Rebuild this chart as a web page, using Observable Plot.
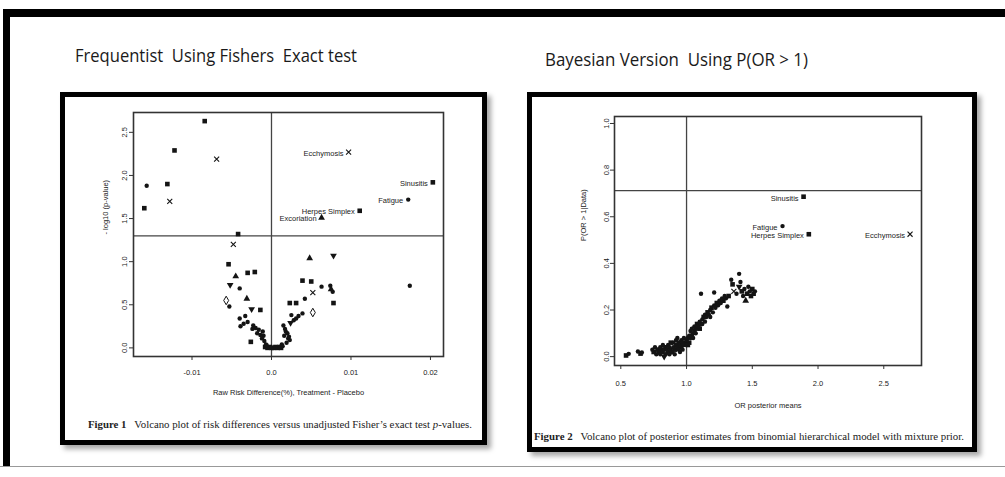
<!DOCTYPE html>
<html>
<head>
<meta charset="utf-8">
<script src="https://cdn.jsdelivr.net/npm/d3@7"></script>
<script src="https://cdn.jsdelivr.net/npm/@observablehq/plot@0.6"></script>
<style>
  html, body { margin: 0; padding: 0; background: #fff; }
  #page { position: relative; width: 1005px; height: 477px; overflow: hidden; background: #fff; }
  .abs { position: absolute; }
  .title { font-family: "Liberation Sans Narrow", "Open Sans", sans-serif; font-size: 18px; color: #1a1a1a; white-space: pre; transform-origin: 0 50%; line-height: 1; }
  .box { box-sizing: border-box; border: 5px solid #000; box-shadow: 4px 4px 5px rgba(0,0,0,0.35); background: #fff; }
  .caption { font-family: "Liberation Serif", "DejaVu Serif", serif; font-size: 10px; color: #222; white-space: pre; transform-origin: 0 50%; line-height: 1; }
  .plot { position: absolute; }
</style>
</head>
<body>
<div id="page">
  <div class="abs" style="left:3px; top:9px; width:1002px; height:8px; background:#000;"></div>
  <div class="abs" style="left:3px; top:9px; width:7px; height:458px; background:#000;"></div>
  <div class="abs" style="left:0px; top:466px; width:1005px; height:1px; background:#999;"></div>

  <div id="t1" class="abs title" style="left:75px; top:46px;">Frequentist  Using Fishers  Exact test</div>
  <div id="t2" class="abs title" style="left:545px; top:50px;">Bayesian Version  Using P(OR &gt; 1)</div>

  <div class="abs box" style="left:60px; top:92px; width:427px; height:353px;"></div>
  <div class="abs box" style="left:527px; top:92px; width:450px; height:360px;"></div>

  <div id="plot1" class="plot" style="left:65px; top:97px;"></div>
  <div id="plot2" class="plot" style="left:532px; top:97px;"></div>

  <div id="c1" class="abs caption" style="left:88px; top:420px;"><b>Figure 1</b>   Volcano plot of risk differences versus unadjusted Fisher’s exact test <i>p</i>-values.</div>
  <div id="c2" class="abs caption" style="left:534px; top:432px;"><b>Figure 2</b>   Volcano plot of posterior estimates from binomial hierarchical model with mixture prior.</div>
</div>
<script>
// ---------------- Left chart (Frequentist) data ----------------
const leftX = [-0.0084,-0.0122,-0.0069,-0.0157,-0.0131,-0.0128,-0.0160,-0.0042,-0.0048,-0.0054,
  -0.0045,-0.0030,-0.0021,-0.0052,-0.0040,-0.0031,-0.0057,-0.0053,-0.0025,-0.0014,
  -0.0040,-0.0033,-0.0035,-0.0030,-0.0039,-0.0023,-0.0020,-0.0024,-0.0016,-0.0011,
  -0.0014,-0.0010,-0.0026,-0.0009,-0.0007,-0.0012,-0.0018,-0.0008,-0.0005,-0.0002,
  0.0000,0.0003,0.0005,0.0008,0.0010,0.0012,0.0014,-0.0006,0.0048,0.0078,
  0.0039,0.0050,0.0063,0.0074,0.0075,0.0052,0.0077,0.0174,0.0042,0.0023,
  0.0031,0.0078,0.0052,0.0039,0.0025,0.0034,0.0028,0.0031,0.0015,0.0017,
  0.0018,0.0020,0.0021,0.0019,0.0023,0.0016,0.0022,0.0024,0.0013];
const leftY = [2.63,2.29,2.19,1.88,1.90,1.70,1.62,1.32,1.20,0.97,
  0.83,0.87,0.88,0.73,0.69,0.57,0.55,0.48,0.45,0.44,
  0.34,0.37,0.28,0.30,0.25,0.26,0.23,0.22,0.21,0.19,
  0.15,0.14,0.07,0.08,0.04,0.11,0.17,0.01,0.00,0.01,
  0.00,0.00,0.01,0.00,0.01,0.00,0.02,0.03,1.04,1.07,
  0.78,0.77,0.71,0.72,0.68,0.64,0.65,0.72,0.57,0.52,
  0.52,0.52,0.41,0.40,0.38,0.37,0.32,0.34,0.26,0.22,
  0.19,0.17,0.11,0.06,0.09,0.14,0.13,0.29,0.04];
const leftShape = ["sq","sq","x","ci","sq","x","sq","sq","x","sq",
  "tu","sq","sq","td","ci","tu","di","ci","td","sq",
  "ci","ci","ci","ci","ci","ci","ci","ci","ci","ci",
  "ci","ci","sq","ci","ci","ci","ci","sq","sq","sq",
  "sq","sq","sq","sq","sq","sq","ci","ci","tu","td",
  "sq","sq","ci","ci","tu","x","ci","ci","ci","sq",
  "sq","sq","di","ci","ci","ci","ci","ci","ci","ci",
  "ci","ci","ci","ci","ci","ci","ci","td","ci"];
const leftLabelNames = ["Ecchymosis","Sinusitis","Fatigue","Herpes Simplex","Excoriation"];
const leftLabelX = [0.0097, 0.0203, 0.0172, 0.0111, 0.0063];
const leftLabelY = [2.27, 1.92, 1.72, 1.59, 1.51];
const leftLabelShape = ["x","sq","ci","sq","tu"];
const leftThresholdY = 1.30;
const leftThresholdX = 0;
const leftXTicks = [-0.01, 0, 0.01, 0.02];
const leftXTickLabels = ["-0.01", "0.0", "0.01", "0.02"];
const leftYTicks = [0, 0.5, 1, 1.5, 2, 2.5];
const leftYTickLabels = ["0.0", "0.5", "1.0", "1.5", "2.0", "2.5"];
const leftXTitle = "Raw Risk Difference(%), Treatment - Placebo";
const leftYTitle = "- log10 (p-value)";

// ---------------- Right chart (Bayesian) data ----------------
const rightX = [0.54,0.56,0.63,0.65,0.66,0.74,0.75,0.76,0.77,0.78,
  0.79,0.80,0.80,0.81,0.82,0.82,0.83,0.83,0.84,0.84,
  0.85,0.86,0.86,0.87,0.87,0.88,0.88,0.89,0.90,0.90,
  0.91,0.92,0.92,0.93,0.94,0.94,0.95,0.96,0.96,0.97,
  0.98,0.98,0.99,1.00,1.00,1.01,1.02,1.02,1.03,1.03,
  1.04,1.04,1.05,1.05,1.06,1.06,1.07,1.07,1.08,1.08,
  1.09,1.10,1.10,1.11,1.12,1.12,1.13,1.14,1.14,1.15,
  1.16,1.17,1.18,1.18,1.19,1.20,1.21,1.22,1.23,1.24,
  1.25,1.26,1.27,1.28,1.11,1.21,1.34,1.35,1.40,1.31,
  1.32,1.30,1.29,1.40,1.42,1.43,1.44,1.45,1.46,1.47,
  1.48,1.49,1.50,1.51,1.52,1.41,1.38,1.36,0.95,0.91,
  0.97,1.01,0.93];
const rightY = [0.005,0.012,0.022,0.013,0.018,0.03,0.02,0.04,0.01,0.03,
  0.02,0.04,0.01,0.03,0.05,0.02,0.03,0.00,0.04,0.01,
  0.03,0.05,0.02,0.04,0.01,0.03,0.06,0.02,0.04,0.06,
  0.03,0.05,0.07,0.04,0.06,0.03,0.05,0.07,0.04,0.06,
  0.05,0.08,0.06,0.07,0.05,0.08,0.06,0.09,0.08,0.11,
  0.09,0.12,0.10,0.08,0.11,0.13,0.12,0.10,0.14,0.12,
  0.13,0.15,0.12,0.14,0.16,0.14,0.17,0.15,0.18,0.17,
  0.19,0.18,0.20,0.17,0.21,0.19,0.22,0.21,0.23,0.22,
  0.24,0.23,0.25,0.24,0.27,0.275,0.33,0.31,0.355,0.215,
  0.26,0.25,0.26,0.30,0.28,0.26,0.29,0.24,0.27,0.30,
  0.28,0.26,0.29,0.27,0.28,0.32,0.27,0.28,0.02,0.01,
  0.03,0.05,0.08];
const rightShape = ["sq","ci","ci","sq","ci","ci","sq","ci","ci","sq",
  "ci","ci","ci","sq","ci","ci","ci","td","sq","ci",
  "ci","ci","sq","ci","ci","ci","sq","ci","ci","ci",
  "sq","ci","ci","ci","sq","ci","ci","ci","sq","ci",
  "ci","ci","sq","ci","ci","ci","sq","ci","ci","ci",
  "sq","ci","ci","ci","sq","ci","ci","ci","sq","ci",
  "ci","ci","sq","ci","ci","ci","sq","ci","ci","ci",
  "sq","ci","ci","ci","sq","ci","ci","ci","sq","ci",
  "ci","ci","ci","sq","ci","ci","ci","sq","ci","ci",
  "sq","ci","ci","td","sq","ci","ci","tu","sq","ci",
  "ci","sq","sq","sq","ci","ci","ci","x","ci","ci",
  "ci","sq","ci"];
const rightLabelNames = ["Sinusitis","Fatigue","Herpes Simplex","Ecchymosis"];
const rightLabelX = [1.89, 1.73, 1.93, 2.70];
const rightLabelY = [0.686, 0.56, 0.525, 0.525];
const rightLabelShape = ["sq","ci","sq","x"];
const rightThresholdY = 0.712;
const rightThresholdX = 1.0;
const rightXTicks = [0.5, 1, 1.5, 2, 2.5];
const rightXTickLabels = ["0.5", "1.0", "1.5", "2.0", "2.5"];
const rightYTicks = [0, 0.2, 0.4, 0.6, 0.8, 1.0];
const rightYTickLabels = ["0.0", "0.2", "0.4", "0.6", "0.8", "1.0"];
const rightXTitle = "OR posterior means";
const rightYTitle = "P(OR > 1|Data)";

// ---------------- helpers ----------------
const INK = "#141414";
function rows(xs, ys, ss) { return xs.map((x, i) => ({x, y: ys[i], s: ss[i]})); }
function dotMarks(data) {
  const by = k => data.filter(d => d.s === k);
  return [
    Plot.dot(by("sq"), {x: "x", y: "y", symbol: "square", r: 2.6, fill: INK, stroke: "none"}),
    Plot.dot(by("ci"), {x: "x", y: "y", symbol: "circle", r: 2.2, fill: INK, stroke: "none"}),
    Plot.dot(by("tu"), {x: "x", y: "y", symbol: "triangle", r: 2.5, fill: INK, stroke: "none"}),
    Plot.dot(by("td"), {x: "x", y: "y", symbol: "triangle", r: 2.5, fill: INK, stroke: "none", rotate: 180}),
    Plot.dot(by("x"), {x: "x", y: "y", symbol: "times", r: 2.4, stroke: INK, strokeWidth: 1.1, fill: "none"}),
    Plot.dot(by("di"), {x: "x", y: "y", symbol: "diamond", r: 2.6, stroke: INK, strokeWidth: 1, fill: "none"})
  ];
}
function fmt(ticks, labels) { return d => labels[ticks.findIndex(t => Math.abs(t - d) < 1e-9)]; }
const plotStyle = {fontFamily: "'Liberation Sans', Arial, sans-serif", fontSize: "7.5px", color: "#222", background: "transparent", overflow: "visible"};

// ---------------- Left plot ----------------
const leftData = rows(leftX, leftY, leftShape);
const leftLabels = leftLabelNames.map((n, i) => ({name: n, x: leftLabelX[i], y: leftLabelY[i], s: leftLabelShape[i]}));
const p1 = Plot.plot({
  width: 416, height: 305,
  marginLeft: 68, marginRight: 38, marginTop: 15, marginBottom: 46,
  x: {domain: [-0.01736, 0.02164]},
  y: {domain: [-0.10, 2.73]},
  style: plotStyle,
  marks: [
    Plot.ruleY([leftThresholdY], {stroke: "#444", strokeWidth: 1.3}),
    Plot.ruleX([leftThresholdX], {stroke: "#444", strokeWidth: 1.3}),
    Plot.frame({stroke: "#333", strokeWidth: 1.6}),
    Plot.axisX({ticks: leftXTicks, tickFormat: fmt(leftXTicks, leftXTickLabels), tickSize: 4, tickPadding: 9, label: null, stroke: "#333"}),
    Plot.axisY({ticks: leftYTicks, tickFormat: fmt(leftYTicks, leftYTickLabels), tickSize: 4, tickPadding: 2.5, tickRotate: -90, label: null, stroke: "#333"}),
    Plot.text([leftXTitle], {frameAnchor: "bottom", dy: 38, fill: "#222"}),
    Plot.text([leftYTitle], {frameAnchor: "left", dx: -28, rotate: -90, fill: "#222"}),
    ...dotMarks(leftData),
    ...dotMarks(leftLabels),
    Plot.text(leftLabels, {x: "x", y: "y", text: "name", textAnchor: "end", dx: -5, dy: 1, fill: "#222"})
  ]
});
document.getElementById("plot1").appendChild(p1);

// ---------------- Right plot ----------------
const rightData = rows(rightX, rightY, rightShape);
const rightLabels = rightLabelNames.map((n, i) => ({name: n, x: rightLabelX[i], y: rightLabelY[i], s: rightLabelShape[i]}));
const p2 = Plot.plot({
  width: 440, height: 320,
  marginLeft: 82, marginRight: 51, marginTop: 19, marginBottom: 52,
  x: {domain: [0.452, 2.787]},
  y: {domain: [-0.038, 1.03]},
  style: plotStyle,
  marks: [
    Plot.ruleY([rightThresholdY], {stroke: "#444", strokeWidth: 1.3}),
    Plot.ruleX([rightThresholdX], {stroke: "#444", strokeWidth: 1.3}),
    Plot.frame({stroke: "#333", strokeWidth: 1.6}),
    Plot.axisX({ticks: rightXTicks, tickFormat: fmt(rightXTicks, rightXTickLabels), tickSize: 4, tickPadding: 11, label: null, stroke: "#333"}),
    Plot.axisY({ticks: rightYTicks, tickFormat: fmt(rightYTicks, rightYTickLabels), tickSize: 4, tickPadding: 2, tickRotate: -90, label: null, stroke: "#333"}),
    Plot.text([rightXTitle], {frameAnchor: "bottom", dy: 42, fill: "#222"}),
    Plot.text([rightYTitle], {frameAnchor: "left", dx: -31, rotate: -90, fill: "#222"}),
    ...dotMarks(rightData),
    ...dotMarks(rightLabels),
    Plot.text(rightLabels, {x: "x", y: "y", text: "name", textAnchor: "end", dx: -5, dy: 1.5, fill: "#222"})
  ]
});
document.getElementById("plot2").appendChild(p2);

// ---------------- fit titles/captions to their widths ----------------
function fit(id, w) {
  const el = document.getElementById(id);
  const cur = el.getBoundingClientRect().width;
  if (cur > 0) el.style.transform = `scaleX(${w / cur})`;
}
fit("t1", 282);
fit("t2", 263);
fit("c1", 384);
fit("c2", 430);
</script>
</body>
</html>
